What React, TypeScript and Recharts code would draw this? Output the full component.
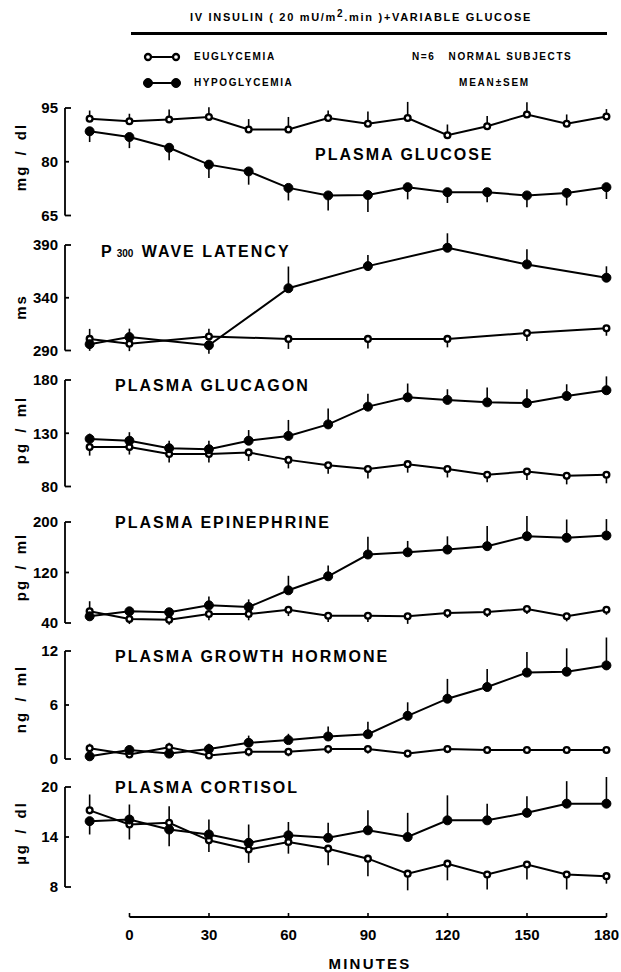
import React from "react";
import { LineChart, Line, XAxis, YAxis, ErrorBar, ReferenceLine } from "recharts";

const FONT = '"Liberation Sans", Arial, Helvetica, sans-serif';

// sampling times (min)
const minutes = [-15, 0, 15, 30, 45, 60, 75, 90, 105, 120, 135, 150, 165, 180];
const p300Minutes = [-15, 0, 30, 60, 90, 120, 150, 180];
const minuteTicks = [0, 30, 60, 90, 120, 150, 180];

// SEM: positive = bar drawn upward, negative = bar drawn downward
const glucoseEu = [92, 91.3, 91.8, 92.5, 89, 89, 92.2, 90.6, 92.2, 87.4, 89.9, 93.2, 90.6, 92.6];
const glucoseEuSem = [2.3, 2.1, 2.8, 2.7, 2.9, 3.5, 2.1, 3.4, 4.5, 3, 2.9, 3.4, 2.6, 2.1];
const glucoseHypo = [88.5, 86.9, 83.9, 79.2, 77.3, 72.7, 70.6, 70.7, 72.9, 71.5, 71.5, 70.6, 71.3, 72.9];
const glucoseHypoSem = [-3, -3.1, -3.5, -3.7, -3.7, -3.5, -4.2, -4.7, -3.4, -3, -2.8, -3.3, -3.5, -3.3];
const glucoseTicks = [65, 80, 95];

const p300Eu = [301, 296.4, 303.3, 301, 301, 301, 306.5, 311];
const p300EuSem = [9.5, -7, 7.3, -9.5, -9, -8, -7.6, -7];
const p300Hypo = [296, 302.7, 295, 349, 370, 387.4, 371.6, 359];
const p300HypoSem = [-6.3, 8, -8, 20.6, 10.5, 13.7, 14.3, 10.8];
const p300Ticks = [290, 340, 390];

const glucagonEu = [117, 117, 110.5, 110.5, 112, 105, 100, 96.5, 101, 96.5, 91, 94, 90, 91];
const glucagonEuSem = [-8, -7, -8, -8, -8, -8, -8, -9, -8, -8, -7, -8, -8, -8];
const glucagonHypo = [124.7, 123, 116, 115, 123, 127.5, 138.3, 155, 163.7, 161.3, 159, 158.4, 165, 170.4];
const glucagonHypoSem = [5, 8, 7, 8, 10, 15, 15, 12, 13, 10, 14, 13, 11, 13];
const glucagonTicks = [80, 130, 180];

const epiEu = [58.5, 46.3, 45.3, 54.3, 54.3, 61, 51.6, 51.6, 50.6, 55.9, 57.5, 62.2, 50.6, 61];
const epiEuSem = [16, -8, -8, -10, -10, -10, -10, -10, -12, -8, -8, -8, -8, -8];
const epiHypo = [50.6, 58.5, 57, 68, 65.4, 91.8, 114, 148.5, 152, 156.3, 161.7, 177.5, 175, 178.6];
const epiHypoSem = [-6, 5, 5, 14, 12, 23, 17, 28, 18, 21, 32, 32, 29, 26];
const epiTicks = [40, 120, 200];

const ghEu = [1.2, 0.5, 1.3, 0.4, 0.8, 0.8, 1.1, 1.1, 0.6, 1.1, 1.0, 1.0, 1.0, 1.0];
const ghEuSem = [0.5, -0.4, 0.5, -0.4, -0.5, -0.5, -0.5, -0.5, -0.4, -0.4, -0.4, -0.4, -0.4, -0.4];
const ghHypo = [0.3, 1.0, 0.6, 1.1, 1.8, 2.1, 2.5, 2.75, 4.8, 6.7, 8.0, 9.6, 9.7, 10.4];
const ghHypoSem = [-0.4, 0.5, -0.5, 0.6, 0.8, 0.7, 1.1, 1.4, 1.5, 2.2, 2.0, 2.3, 2.6, 3.1];
const ghTicks = [0, 6, 12];

const cortisolEu = [17.2, 15.5, 15.7, 13.6, 12.5, 13.4, 12.6, 11.4, 9.6, 10.8, 9.5, 10.7, 9.5, 9.3];
const cortisolEuSem = [1.9, -1.8, 2.0, -1.4, -1.6, -1.4, -2.0, -2.1, -2.0, -2.0, -1.8, -1.8, -1.8, -0.9];
const cortisolHypo = [15.9, 16.1, 14.9, 14.3, 13.3, 14.2, 13.9, 14.8, 14.0, 16.0, 16.0, 16.9, 18.0, 18.0];
const cortisolHypoSem = [-1.6, 1.8, -2.0, 1.8, 2.2, 1.6, 1.8, 2.4, 2.9, 3.0, 2.0, 2.0, 2.7, 3.2];
const cortisolTicks = [8, 14, 20];

const X_DOMAIN: [number, number] = [-24.3, 182.1];
const AXIS_X = 65;
const CHART_W = 621;
const PAD = 30;

const toErr = (s: number) => (s < 0 ? [-s, 0] : [0, s]);

function buildRows(xs: number[], eu: number[], euSem: number[], hypo: number[], hypoSem: number[]) {
  return xs.map((m, i) => ({
    m,
    eu: eu[i],
    hypo: hypo[i],
    euErr: toErr(euSem[i]),
    hypoErr: toErr(hypoSem[i]),
  }));
}

type PanelDef = {
  id: string;
  rows: any[];
  ticks: number[];
  top: number;
  bottom: number;
  unit: string;
  unitY: number;
  title: React.ReactNode;
  titleX: number;
  titleY: number;
};

const panels: PanelDef[] = [
  {
    id: "glucose",
    rows: buildRows(minutes, glucoseEu, glucoseEuSem, glucoseHypo, glucoseHypoSem),
    ticks: glucoseTicks,
    top: 108,
    bottom: 215.5,
    unit: "mg / dl",
    unitY: 157,
    title: "PLASMA GLUCOSE",
    titleX: 315,
    titleY: 155,
  },
  {
    id: "p300",
    rows: buildRows(p300Minutes, p300Eu, p300EuSem, p300Hypo, p300HypoSem),
    ticks: p300Ticks,
    top: 244.5,
    bottom: 350,
    unit: "ms",
    unitY: 307,
    title: (
      <>
        P<span style={{ fontSize: 10, letterSpacing: 0, marginLeft: 3, marginRight: 2 }}>300</span> WAVE LATENCY
      </>
    ),
    titleX: 101,
    titleY: 252,
  },
  {
    id: "glucagon",
    rows: buildRows(minutes, glucagonEu, glucagonEuSem, glucagonHypo, glucagonHypoSem),
    ticks: glucagonTicks,
    top: 379.5,
    bottom: 486,
    unit: "pg / ml",
    unitY: 430,
    title: "PLASMA GLUCAGON",
    titleX: 115,
    titleY: 386,
  },
  {
    id: "epinephrine",
    rows: buildRows(minutes, epiEu, epiEuSem, epiHypo, epiHypoSem),
    ticks: epiTicks,
    top: 522,
    bottom: 623,
    unit: "pg / ml",
    unitY: 567,
    title: "PLASMA EPINEPHRINE",
    titleX: 115,
    titleY: 523,
  },
  {
    id: "gh",
    rows: buildRows(minutes, ghEu, ghEuSem, ghHypo, ghHypoSem),
    ticks: ghTicks,
    top: 651,
    bottom: 759,
    unit: "ng / ml",
    unitY: 699,
    title: "PLASMA GROWTH HORMONE",
    titleX: 115,
    titleY: 657,
  },
  {
    id: "cortisol",
    rows: buildRows(minutes, cortisolEu, cortisolEuSem, cortisolHypo, cortisolHypoSem),
    ticks: cortisolTicks,
    top: 787,
    bottom: 887,
    unit: "\u00b5g / dl",
    unitY: 833,
    title: "PLASMA CORTISOL",
    titleX: 115,
    titleY: 788,
  },
];

const YTick = (props: any) => {
  const { y, payload, lo, hi } = props;
  const edge = payload.value === lo || payload.value === hi;
  return (
    <g>
      <line x1={AXIS_X} x2={AXIS_X + (edge ? 6 : 4)} y1={y} y2={y} stroke="#000" strokeWidth={1.8} />
      <text
        x={AXIS_X - 7}
        y={y}
        dy="0.36em"
        textAnchor="end"
        fontSize={15}
        fontWeight="bold"
        fontFamily={FONT}
        fill="#000"
      >
        {payload.value}
      </text>
    </g>
  );
};

const BOTTOM_AXIS_Y = 17;

const XTick = (props: any) => {
  const { x, payload } = props;
  return (
    <g>
      <line x1={x} x2={x} y1={BOTTOM_AXIS_Y} y2={BOTTOM_AXIS_Y - 4} stroke="#000" strokeWidth={1.6} />
      <text
        x={x}
        y={35}
        dy="0.36em"
        textAnchor="middle"
        fontSize={15}
        fontWeight="bold"
        fontFamily={FONT}
        fill="#000"
      >
        {payload.value}
      </text>
    </g>
  );
};

const euDot = { r: 2.9, fill: "#fff", stroke: "#000", strokeWidth: 2.3 };
const hypoDot = { r: 4.5, fill: "#000", stroke: "#000", strokeWidth: 1 };

function Panel({ p }: { p: PanelDef }) {
  const h = p.bottom - p.top;
  const lo = p.ticks[0];
  const hi = p.ticks[p.ticks.length - 1];
  const perPx = (hi - lo) / h;
  const domain = [lo - PAD * perPx, hi + PAD * perPx];
  return (
    <div style={{ position: "absolute", left: 0, top: p.top - PAD }}>
      <LineChart
        width={CHART_W}
        height={h + 2 * PAD}
        data={p.rows}
        margin={{ top: 0, right: 9, bottom: 0, left: 0 }}
      >
        <XAxis type="number" dataKey="m" domain={X_DOMAIN} hide />
        <YAxis
          type="number"
          domain={domain}
          ticks={p.ticks}
          interval={0}
          width={AXIS_X}
          axisLine={false}
          tickLine={false}
          tick={(t: any) => <YTick {...t} lo={lo} hi={hi} />}
        />
        <ReferenceLine
          segment={[
            { x: X_DOMAIN[0], y: lo },
            { x: X_DOMAIN[0], y: hi },
          ]}
          stroke="#000"
          strokeWidth={1.8}
          ifOverflow="visible"
        />
        <Line
          type="linear"
          dataKey="eu"
          stroke="#000"
          strokeWidth={2}
          dot={euDot}
          activeDot={false}
          isAnimationActive={false}
        >
          <ErrorBar dataKey="euErr" direction="y" width={0} stroke="#000" strokeWidth={1.6} />
        </Line>
        <Line
          type="linear"
          dataKey="hypo"
          stroke="#000"
          strokeWidth={2}
          dot={hypoDot}
          activeDot={false}
          isAnimationActive={false}
        >
          <ErrorBar dataKey="hypoErr" direction="y" width={0} stroke="#000" strokeWidth={1.6} />
        </Line>
      </LineChart>
    </div>
  );
}

const textBase: React.CSSProperties = {
  position: "absolute",
  fontFamily: FONT,
  fontWeight: "bold",
  color: "#000",
  whiteSpace: "nowrap",
  lineHeight: 1,
};

const LegendGlyph = ({ filled }: { filled: boolean }) => (
  <svg width={40} height={12} style={{ display: "block" }}>
    <line x1={6} x2={34} y1={6} y2={6} stroke="#000" strokeWidth={2} />
    {[6, 34].map((cx) => (
      <circle
        key={cx}
        cx={cx}
        cy={6}
        r={filled ? 4.5 : 3}
        fill={filled ? "#000" : "#fff"}
        stroke="#000"
        strokeWidth={filled ? 1 : 2.3}
      />
    ))}
  </svg>
);

export default function App() {
  const axisRows = minuteTicks.map((m) => ({ m }));
  return (
    <div style={{ position: "fixed", left: 0, top: 0, width: 621, height: 972, background: "#fff" }}>
      <div style={{ ...textBase, left: 190, top: 16, transform: "translateY(-50%)", fontSize: 11, letterSpacing: 1.7 }}>
        IV INSULIN ( 20 mU/m<sup style={{ fontSize: 10, verticalAlign: "4px" }}>2</sup>.min )+VARIABLE GLUCOSE
      </div>
      <div style={{ position: "absolute", left: 131, top: 32, width: 476, height: 3, background: "#000" }} />

      <div style={{ position: "absolute", left: 142, top: 51 }}>
        <LegendGlyph filled={false} />
      </div>
      <div style={{ position: "absolute", left: 142, top: 77 }}>
        <LegendGlyph filled />
      </div>
      <div style={{ ...textBase, left: 194, top: 57, transform: "translateY(-50%)", fontSize: 10, letterSpacing: 1.6 }}>
        EUGLYCEMIA
      </div>
      <div style={{ ...textBase, left: 194, top: 83, transform: "translateY(-50%)", fontSize: 10, letterSpacing: 1.6 }}>
        HYPOGLYCEMIA
      </div>
      <div style={{ ...textBase, left: 412, top: 57, transform: "translateY(-50%)", fontSize: 10, letterSpacing: 1.6 }}>
        N=6&nbsp;&nbsp;&nbsp;NORMAL SUBJECTS
      </div>
      <div style={{ ...textBase, left: 459, top: 83, transform: "translateY(-50%)", fontSize: 10, letterSpacing: 1.8 }}>
        MEAN±SEM
      </div>

      {panels.map((p) => (
        <Panel key={p.id} p={p} />
      ))}

      {panels.map((p) => (
        <div
          key={p.id + "-title"}
          style={{ ...textBase, left: p.titleX, top: p.titleY, transform: "translateY(-50%)", fontSize: 16, letterSpacing: 2 }}
        >
          {p.title}
        </div>
      ))}

      {panels.map((p) => (
        <div
          key={p.id + "-unit"}
          style={{
            ...textBase,
            left: 20,
            top: p.unitY,
            transform: "translate(-50%, -50%) rotate(-90deg)",
            fontSize: 15,
            letterSpacing: 2,
            wordSpacing: 3,
          }}
        >
          {p.unit}
        </div>
      ))}

      <div style={{ position: "absolute", left: 0, top: 900 }}>
        <LineChart width={CHART_W} height={60} data={axisRows} margin={{ top: 0, right: 14.5, bottom: 0, left: 129.5 }}>
          <XAxis
            type="number"
            dataKey="m"
            domain={[0, 180]}
            ticks={minuteTicks}
            interval={0}
            height={43}
            axisLine={{ stroke: "#000", strokeWidth: 1.8 }}
            tickLine={false}
            tick={(t: any) => <XTick {...t} />}
          />
          <YAxis hide domain={[0, 1]} />
        </LineChart>
      </div>

      <div style={{ ...textBase, left: 370, top: 963, transform: "translate(-50%, -50%)", fontSize: 15, letterSpacing: 2.2 }}>
        MINUTES
      </div>
    </div>
  );
}
